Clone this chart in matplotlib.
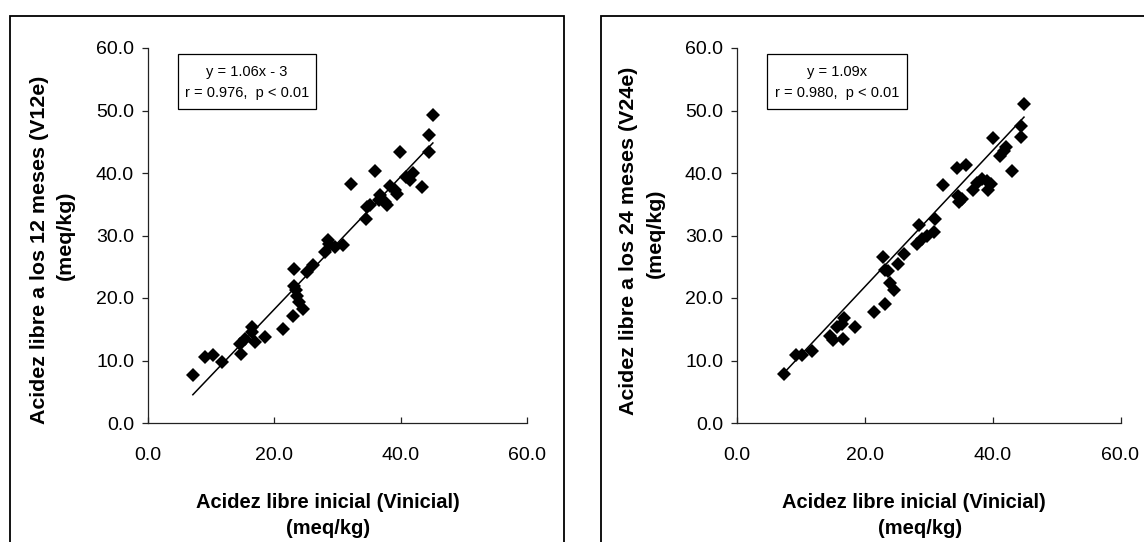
import matplotlib
matplotlib.use("Agg")
import matplotlib.pyplot as plt
import matplotlib.patches as patches
import numpy as np

plt.rcParams["font.family"] = ["Liberation Sans", "DejaVu Sans"]

# Initial free acidity (x) and acidity after 12 months (y)
v_inicial_12 = [7.1, 9.0, 10.3, 11.7, 14.8, 14.6, 15.4, 16.4, 16.5, 16.9, 18.5,
                21.4, 23.0, 23.1, 23.1, 23.4, 23.6, 23.9, 24.6, 25.1, 26.2,
                28.0, 28.5, 28.7, 29.6, 30.9, 32.2, 34.5, 34.6, 35.1, 35.9,
                36.5, 36.7, 37.5, 37.9, 38.3, 39.1, 39.4, 39.9, 40.9, 41.4,
                42.0, 43.3, 44.5, 44.5, 45.1]
v12e = [7.7, 10.6, 10.9, 9.8, 11.0, 12.7, 13.4, 15.4, 14.5, 13.0, 13.7,
        15.1, 17.1, 24.7, 21.9, 21.3, 20.3, 19.4, 18.3, 24.2, 25.3,
        27.4, 29.3, 28.7, 28.2, 28.5, 38.2, 32.7, 34.6, 34.9, 40.3,
        35.7, 36.5, 35.4, 34.9, 37.9, 37.3, 36.7, 43.4, 39.3, 38.9,
        40.0, 37.7, 43.4, 46.1, 49.3]

# Initial free acidity (x) and acidity after 24 months (y)
v_inicial_24 = [7.4, 9.3, 10.2, 11.8, 14.5, 15.0, 15.6, 16.4, 16.7, 16.6, 18.4,
                21.4, 23.2, 22.9, 23.1, 23.7, 23.9, 24.5, 25.2, 26.2, 28.5,
                28.2, 28.9, 29.7, 30.8, 31.0, 32.2, 34.4, 35.9, 34.6, 34.7,
                35.2, 36.9, 37.5, 38.3, 39.1, 39.7, 39.3, 40.1, 41.2, 41.7,
                42.1, 43.1, 44.5, 44.5, 44.9]
v24e = [7.8, 10.9, 10.9, 11.6, 13.9, 13.3, 15.3, 15.8, 16.8, 13.5, 15.3,
        17.7, 19.0, 26.6, 24.5, 24.3, 22.4, 21.3, 25.4, 27.1, 31.7,
        28.6, 29.4, 30.0, 30.5, 32.6, 38.1, 40.8, 41.3, 36.3, 35.3,
        35.8, 37.2, 38.4, 39.0, 38.8, 38.2, 37.2, 45.6, 42.8, 43.5,
        44.1, 40.4, 45.8, 47.6, 51.0]

# Fitted lines (slope, intercept) and statistics shown in the boxes
fit_12 = (1.06, -3.0)
fit_24 = (1.09, 0.0)
stats_12 = ("y = 1.06x - 3", "r = 0.976,  p < 0.01")
stats_24 = ("y = 1.09x", "r = 0.980,  p < 0.01")

x_ticks = [0, 20, 40, 60]
y_ticks = [0, 10, 20, 30, 40, 50, 60]

ylabel_12 = "Acidez libre a los 12 meses (V12e)"
ylabel_24 = "Acidez libre a los 24 meses (V24e)"
xlabel = "Acidez libre inicial (Vinicial)"
units = "(meq/kg)"

W, H = 1144, 542
fig = plt.figure(figsize=(W / 100, H / 100), dpi=100)
fig.patch.set_facecolor("white")


def fx(px):
    return px / W


def fy(py):
    return 1 - py / H


# Outer panel frames
for x0, x1 in [(9.6, 564), (601, 1150)]:
    rect = patches.Rectangle((fx(x0), fy(548)), fx(x1) - fx(x0), fy(16) - fy(548),
                             transform=fig.transFigure, facecolor="white",
                             edgecolor="black", linewidth=1.3, zorder=-10)
    fig.patches.append(rect)


def panel(ax_left_px, ax_right_px, xs, ys, fit, stats, ylab, ylab_px, xlab_px):
    ax = fig.add_axes([fx(ax_left_px), fy(423), fx(ax_right_px) - fx(ax_left_px),
                       fy(48) - fy(423)])
    ax.set_zorder(2)
    ax.set_facecolor("none")
    ax.plot(xs, ys, linestyle="none", marker="D", markersize=7.1,
            color="black", markeredgewidth=0, zorder=3, clip_on=False)
    lx = np.array([min(xs), max(xs)])
    ax.plot(lx, fit[0] * lx + fit[1], color="black", linewidth=1.1, zorder=2)

    ax.set_xlim(0, 60)
    ax.set_ylim(0, 60)
    ax.set_xticks(x_ticks)
    ax.set_yticks(y_ticks)
    ax.set_xticklabels([f"{v:.1f}" for v in x_ticks])
    ax.set_yticklabels([f"{v:.1f}" for v in y_ticks])
    for s in ["top", "right"]:
        ax.spines[s].set_visible(False)
    for s in ["left", "bottom"]:
        ax.spines[s].set_linewidth(0.9)
        ax.spines[s].set_color("#222222")
    ax.tick_params(axis="x", direction="in", length=4, width=0.9,
                   labelsize=14, pad=17, colors="#222222", labelcolor="black")
    ax.tick_params(axis="y", direction="out", length=4, width=0.9,
                   labelsize=14, pad=6, colors="#222222", labelcolor="black")

    # Equation box
    box = patches.Rectangle((0.079, 0.837), 0.364, 0.147, transform=ax.transAxes,
                            facecolor="white", edgecolor="black", linewidth=0.9,
                            zorder=4)
    ax.add_patch(box)
    ax.text(0.261, 0.937, stats[0], transform=ax.transAxes, ha="center",
            va="center", fontsize=10.5, zorder=5)
    ax.text(0.261, 0.881, stats[1], transform=ax.transAxes, ha="center",
            va="center", fontsize=10.5, zorder=5)

    # Axis titles
    (l1x, l1y), (l2x, l2y) = ylab_px
    fig.text(fx(l1x), fy(l1y), ylab, rotation=90, ha="center", va="center",
             fontsize=15.4, fontweight="bold")
    fig.text(fx(l2x), fy(l2y), units, rotation=90, ha="center", va="center",
             fontsize=15.4, fontweight="bold")
    (m1x, m1y), (m2x, m2y) = xlab_px
    fig.text(fx(m1x), fy(m1y), xlabel, ha="center", va="center",
             fontsize=14.5, fontweight="bold")
    fig.text(fx(m2x), fy(m2y), units, ha="center", va="center",
             fontsize=14.5, fontweight="bold")
    return ax


panel(148, 527, v_inicial_12, v12e, fit_12, stats_12, ylabel_12,
      ((40, 250), (65, 235)), ((328, 503), (328, 528)))
panel(737, 1120.5, v_inicial_24, v24e, fit_24, stats_24, ylabel_24,
      ((628, 241), (655, 233)), ((914, 503), (920, 528)))

fig.savefig("out.png", dpi=100)
